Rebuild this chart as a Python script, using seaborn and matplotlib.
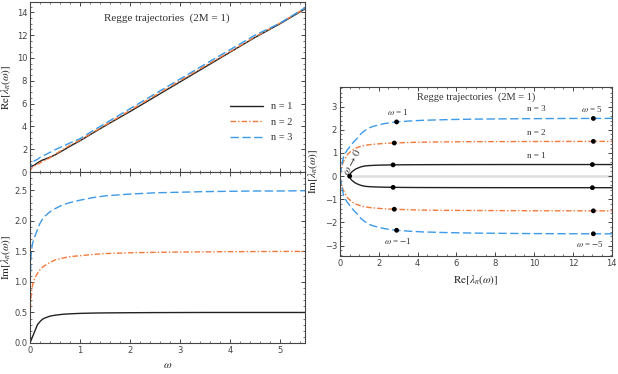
import numpy as np
import pandas as pd
import matplotlib
matplotlib.use('Agg')
import matplotlib.pyplot as plt
from matplotlib.ticker import AutoMinorLocator, MultipleLocator, FormatStrFormatter, FuncFormatter
import seaborn as sns

# frequency grid (2M = 1)
omega = [0, 0.005, 0.01, 0.02, 0.035, 0.05, 0.075, 0.1, 0.15, 0.2, 0.25, 0.3,
         0.4, 0.5, 0.65, 0.8, 1.0, 1.25, 1.5, 2.0, 2.5, 3.0, 3.5, 4.0, 4.5,
         5.0, 5.5]

# Re[lambda_n(omega)]
re1 = [0.5, 0.5, 0.502, 0.508, 0.52, 0.54, 0.58, 0.64, 0.8, 0.93, 1.05,
       1.13, 1.3, 1.5, 1.87, 2.26, 2.74, 3.4, 4.05, 5.3, 6.6, 7.9, 9.2,
       10.5, 11.8, 13.0, 14.3]
re2 = [0, 0.1, 0.17, 0.26, 0.34, 0.4, 0.5, 0.57, 0.68, 0.8, 0.92, 1.02,
       1.25, 1.55, 1.95, 2.35, 2.8, 3.45, 4.1, 5.4, 6.7, 8.0, 9.3, 10.55,
       11.85, 13.05, 14.35]
re3 = [0, 0.2, 0.4, 0.65, 0.78, 0.88, 0.95, 1.0, 1.12, 1.28, 1.4, 1.5,
       1.72, 1.95, 2.25, 2.55, 2.92, 3.6, 4.25, 5.55, 6.85, 8.15, 9.45,
       10.72, 12.0, 13.05, 14.4]

# Im[lambda_n(omega)]
im1 = [0, 0.01, 0.02, 0.04, 0.07, 0.1, 0.15, 0.2, 0.3, 0.35, 0.39, 0.41,
       0.44, 0.455, 0.47, 0.478, 0.485, 0.49, 0.493, 0.496, 0.498, 0.499,
       0.5, 0.5, 0.5, 0.5, 0.5]
im2 = [0, 0.45, 0.6, 0.75, 0.87, 0.94, 1.02, 1.07, 1.14, 1.2, 1.24, 1.27,
       1.32, 1.36, 1.39, 1.415, 1.43, 1.45, 1.465, 1.478, 1.485, 1.49,
       1.493, 1.496, 1.498, 1.5, 1.5]
im3 = [0, 0.9, 1.15, 1.42, 1.54, 1.62, 1.7, 1.75, 1.86, 1.96, 2.03, 2.08,
       2.15, 2.2, 2.26, 2.3, 2.34, 2.38, 2.41, 2.44, 2.46, 2.47, 2.48,
       2.485, 2.49, 2.49, 2.495]

labels = ['n = 1', 'n = 2', 'n = 3']
colors = ['#222222', '#f47a3c', '#3d9ae8']
dashes = [None, (4, 1.5, 1, 1.5), (6, 2.5)]
marked_omega = [1.0, 5.0]

sns.set_style('ticks')
plt.rcParams['font.family'] = ['Liberation Serif', 'DejaVu Serif']
plt.rcParams['mathtext.fontset'] = 'stix'

fig = plt.figure(figsize=(6.18, 3.74), dpi=100)
ax_re = fig.add_axes([0.0485, 0.540, 0.445, 0.4545])
ax_im = fig.add_axes([0.0485, 0.0829, 0.445, 0.457])
ax_tr = fig.add_axes([0.550, 0.3155, 0.440, 0.452])

res = [re1, re2, re3]
ims = [im1, im2, im3]


def draw(ax, x, y, i, label=None):
    sns.lineplot(x=x, y=y, ax=ax, color=colors[i], lw=1.0, sort=False,
                 label=label, estimator=None)
    if dashes[i] is not None:
        ax.lines[-1].set_dashes(dashes[i])


for i in range(3):
    draw(ax_re, omega, res[i], i, labels[i])
    draw(ax_im, omega, ims[i], i)

# trajectories in the complex plane
ax_tr.hlines(0, re1[0], 14, color='#dddddd', lw=1.8, zorder=0)
om = np.array(omega)
for i in range(3):
    re = np.array(res[i])
    im = np.array(ims[i])
    draw(ax_tr, re, im, i)
    draw(ax_tr, re, -im, i)
    sel = np.isin(om, marked_omega)
    pts = pd.DataFrame({'x': np.concatenate([re[sel], re[sel]]),
                        'y': np.concatenate([im[sel], -im[sel]])})
    sns.scatterplot(data=pts, x='x', y='y', ax=ax_tr, color='black', s=12,
                    edgecolor='none', zorder=5)
sns.scatterplot(x=[re1[0]], y=[im1[0]], ax=ax_tr, color='black', s=12,
                edgecolor='none', zorder=5)

for ax in (ax_re, ax_im, ax_tr):
    for s in ax.spines.values():
        s.set_visible(True)
        s.set_color('#444444')
        s.set_linewidth(0.8)
    ax.xaxis.set_minor_locator(AutoMinorLocator())
    ax.yaxis.set_minor_locator(AutoMinorLocator())
    ax.tick_params(which='both', direction='in', top=True, right=True,
                   labelsize=6, labelcolor='#444444', color='#444444', pad=2)
    ax.tick_params(which='major', length=3, width=0.7)
    ax.tick_params(which='minor', length=1.6, width=0.5)

ax_re.set_xlim(0, 5.5)
ax_re.set_ylim(0, 14.9)
ax_re.yaxis.set_major_locator(MultipleLocator(2))
ax_re.xaxis.set_major_locator(MultipleLocator(1))
ax_re.tick_params(labelbottom=False)
ax_re.set_ylabel(r'$\mathrm{Re}[\lambda_n(\omega)]$', fontsize=8)
ax_re.yaxis.set_label_coords(-0.062, 0.5)
ax_re.set_xlabel('')
ax_re.text(0.497, 0.905, 'Regge trajectories  (2M = 1)', transform=ax_re.transAxes,
           ha='center', va='center', fontsize=8, color='#333333')
leg = ax_re.legend(loc='lower right', bbox_to_anchor=(0.99, 0.12), frameon=False,
                   fontsize=7.5, handlelength=3.2, labelspacing=0.6)
for t in leg.get_texts():
    t.set_color('#333333')

ax_im.set_xlim(0, 5.5)
ax_im.set_ylim(0, 2.8)
ax_im.yaxis.set_major_locator(MultipleLocator(0.5))
ax_im.xaxis.set_major_locator(MultipleLocator(1))
ax_im.yaxis.set_major_formatter(FormatStrFormatter('%.1f'))
ax_im.set_xlabel(r'$\omega$', fontsize=8)
ax_im.xaxis.set_label_coords(0.5, -0.105)
ax_im.set_ylabel(r'$\mathrm{Im}[\lambda_n(\omega)]$', fontsize=8)
ax_im.yaxis.set_label_coords(-0.062, 0.5)

ax_tr.set_xlim(0, 14)
ax_tr.set_ylim(-3.45, 3.85)
ax_tr.xaxis.set_major_locator(MultipleLocator(2))
ax_tr.yaxis.set_major_locator(MultipleLocator(1))
ax_tr.yaxis.set_major_formatter(FuncFormatter(
    lambda v, p: ('\u2212%d' % -v) if v < 0 else '%d' % v))
ax_tr.set_xlabel(r'$\mathrm{Re}[\lambda_n(\omega)]$', fontsize=8)
ax_tr.xaxis.set_label_coords(0.5, -0.10)
ax_tr.set_ylabel(r'$\mathrm{Im}[\lambda_n(\omega)]$', fontsize=8)
ax_tr.yaxis.set_label_coords(-0.074, 0.5)

for ax in (ax_re, ax_im, ax_tr):
    for t in ax.get_xticklabels() + ax.get_yticklabels():
        t.set_family('DejaVu Sans')

txt = dict(fontsize=6.5, color='#333333', ha='center', va='center')
ax_tr.text(7.0, 3.41, 'Regge trajectories  (2M = 1)', **{**txt, 'fontsize': 7.5})
for i in range(3):
    ax_tr.text(10.1, 0.88 + i, labels[i], **txt)
ax_tr.text(3.0, 2.75, r'$\omega$ = 1', **txt)
ax_tr.text(13.0, 2.9, r'$\omega$ = 5', **txt)
ax_tr.text(3.0, -2.81, r'$\omega$ = $-$1', **txt)
ax_tr.text(12.9, -2.95, r'$\omega$ = $-$5', **txt)
ax_tr.text(0.62, 0.62, r'$\omega\rightarrow0$', rotation=62,
           **{**txt, 'fontsize': 8})

fig.savefig('out.png', dpi=100)
